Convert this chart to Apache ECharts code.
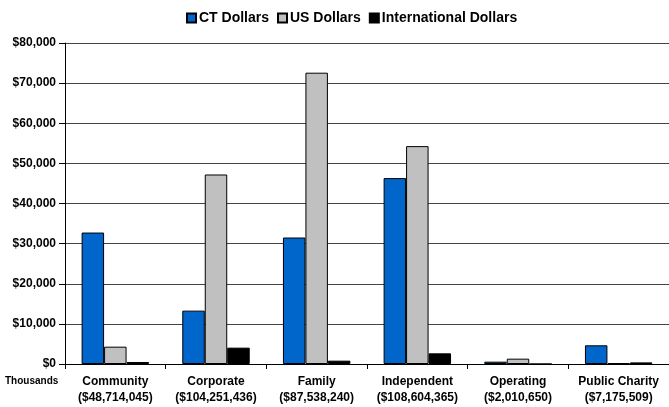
<!DOCTYPE html>
<html>
<head>
<meta charset="utf-8">
<script src="https://cdn.jsdelivr.net/npm/echarts@6/dist/echarts.min.js"></script>
<style>
html,body{margin:0;padding:0;background:#fff;}
#chart{width:669px;height:407px;}
</style>
</head>
<body>
<div id="chart"></div>
<script>
const categories = ['Community', 'Corporate', 'Family', 'Independent', 'Operating', 'Public Charity'];
const totals = ['($48,714,045)', '($104,251,436)', '($87,538,240)', '($108,604,365)', '($2,010,650)', '($7,175,509)'];
const ctDollars = [32760, 13300, 31520, 46330, 580, 4660];
const usDollars = [4320, 47230, 72600, 54300, 1330, 200];
const intlDollars = [500, 4070, 830, 2660, 0, 400];
const yTicks = [0, 10000, 20000, 30000, 40000, 50000, 60000, 70000, 80000];

const font = 'Liberation Sans, Arial, sans-serif';
const chart = echarts.init(document.getElementById('chart'));
const labels = categories.map((c, i) => c + '\n' + totals[i]);
const border = { borderColor: '#000', borderWidth: 1 };

chart.setOption({
  animation: false,
  textStyle: { fontFamily: font },
  legend: {
    top: 6,
    left: 181,
    icon: 'rect',
    itemWidth: 9,
    itemHeight: 9,
    itemGap: 8,
    textStyle: { fontFamily: font, fontWeight: 'bold', fontSize: 14, color: '#000', padding: [0, 0, 0, -2] },
    data: ['CT Dollars', 'US Dollars', 'International Dollars']
  },
  grid: { left: 65, top: 43, width: 610, bottom: 43, containLabel: false },
  graphic: [{
    type: 'text', left: 5, top: 376,
    style: { text: 'Thousands', font: 'bold 10px ' + font, fill: '#000' }
  }],
  xAxis: {
    type: 'category',
    data: labels,
    axisLine: { lineStyle: { color: '#000', width: 1 } },
    axisTick: { show: true, length: 5, lineStyle: { color: '#000' } },
    axisLabel: { color: '#000', fontWeight: 'bold', fontSize: 12, fontFamily: font, lineHeight: 16, margin: 10, interval: 0 }
  },
  yAxis: {
    type: 'value',
    min: 0, max: 80000, interval: 10000,
    axisLine: { show: true, lineStyle: { color: '#000', width: 1 } },
    axisTick: { show: true, length: 6, lineStyle: { color: '#000' } },
    splitLine: { lineStyle: { color: '#444', width: 1 } },
    axisLabel: {
      color: '#000', fontWeight: 'bold', fontSize: 12, fontFamily: font, margin: 9,
      formatter: v => yTicks.includes(v) ? '$' + v.toLocaleString('en-US') : ''
    }
  },
  series: [
    { name: 'CT Dollars', type: 'bar', data: ctDollars, barGap: '0%', barCategoryGap: '33%',
      itemStyle: Object.assign({ color: '#0066CC' }, border) },
    { name: 'US Dollars', type: 'bar', data: usDollars,
      itemStyle: Object.assign({ color: '#C0C0C0' }, border) },
    { name: 'International Dollars', type: 'bar', data: intlDollars,
      itemStyle: Object.assign({ color: '#000000' }, border) }
  ]
});
</script>
</body>
</html>
